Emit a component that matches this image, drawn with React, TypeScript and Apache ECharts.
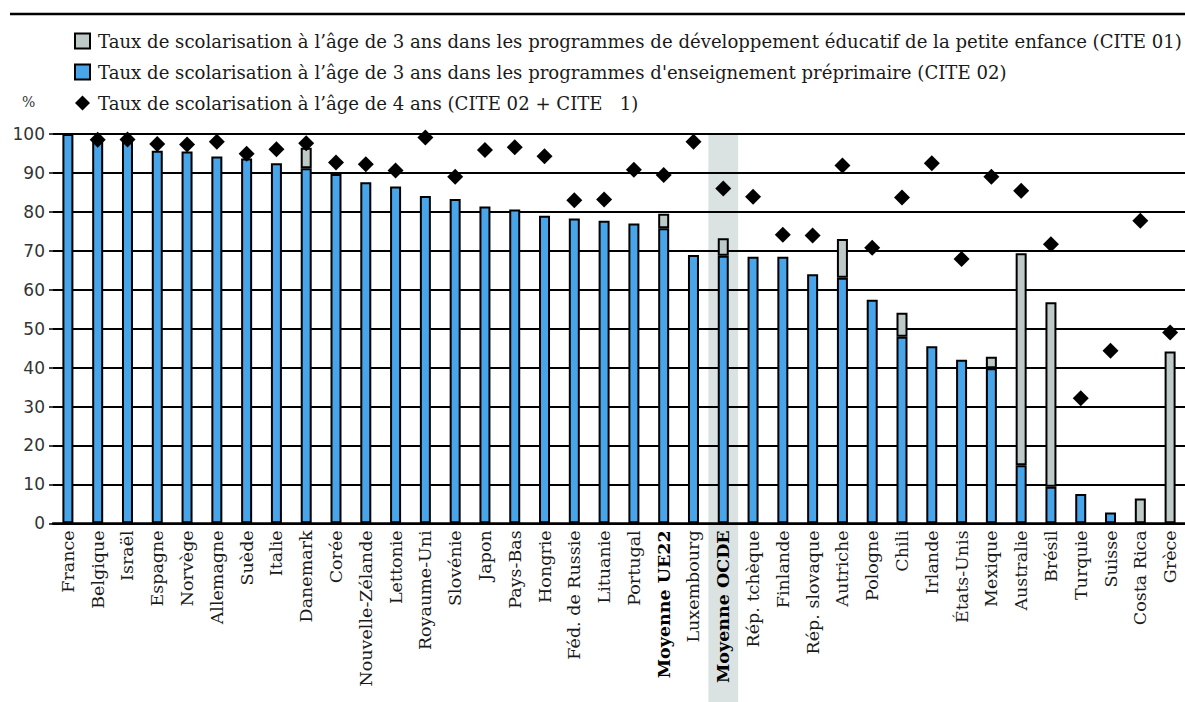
import React, { useEffect, useRef } from "react";
import * as echarts from "echarts";

const categories = [
  "France", "Belgique", "Israël", "Espagne", "Norvège", "Allemagne", "Suède", "Italie",
  "Danemark", "Corée", "Nouvelle-Zélande", "Lettonie", "Royaume-Uni", "Slovénie", "Japon",
  "Pays-Bas", "Hongrie", "Féd. de Russie", "Lituanie", "Portugal", "Moyenne UE22",
  "Luxembourg", "Moyenne OCDE", "Rép. tchèque", "Finlande", "Rép. slovaque", "Autriche",
  "Pologne", "Chili", "Irlande", "États-Unis", "Mexique", "Australie", "Brésil", "Turquie",
  "Suisse", "Costa Rica", "Grèce",
];

// CITE 02 at age 3 (blue)
const cite02Age3 = [
  100, 98.3, 98.5, 95.7, 95.5, 94.2, 93.7, 92.5,
  91.2, 89.7, 87.6, 86.5, 84.1, 83.3, 81.4,
  80.6, 79.0, 78.3, 77.7, 77.0, 75.8,
  68.9, 68.7, 68.5, 68.5, 64.0, 63.1,
  57.4, 47.9, 45.5, 42.0, 39.8, 14.9, 9.4, 7.5,
  2.8, 0, 0,
];

// CITE 01 at age 3 (grey, stacked on top)
const cite01Age3 = [
  0, 0, 0, 0, 0, 0, 0, 0,
  5.3, 0, 0, 0, 0, 0, 0,
  0, 0, 0, 0, 0, 3.7,
  0, 4.5, 0, 0, 0, 9.9,
  0, 6.2, 0, 0, 3.0, 54.5, 47.4, 0,
  0, 6.4, 44.1,
];

// Age 4 (CITE 02 + CITE 01), diamonds
const age4 = [
  null, 98.5, 98.6, 97.4, 97.3, 98.0, 94.9, 96.1,
  97.6, 92.7, 92.2, 90.6, 99.1, 89.0, 95.9,
  96.6, 94.3, 83.0, 83.2, 90.8, 89.5,
  98.0, 86.0, 83.9, 74.1, 73.9, 91.9,
  70.8, 83.7, 92.5, 67.9, 89.0, 85.4, 71.7, 32.1,
  44.3, 77.7, 49.0,
];

const yTicks = { min: 0, max: 100, interval: 10 };

const legendNames = [
  "Taux de scolarisation à l’âge de 3 ans dans les programmes de développement éducatif de la petite enfance (CITE 01)",
  "Taux de scolarisation à l’âge de 3 ans dans les programmes d'enseignement préprimaire (CITE 02)",
  "Taux de scolarisation à l’âge de 4 ans (CITE 02 + CITE   1)",
];

const highlighted = "Moyenne OCDE";
const boldCats = ["Moyenne UE22", "Moyenne OCDE"];

const BLUE = "#49a5ea";
const GREY = "#bdcac8";
const SERIF = "'DejaVu Serif', serif";

export default function App() {
  const ref = useRef<HTMLDivElement>(null);
  useEffect(() => {
    if (!ref.current) return;
    const chart = echarts.init(ref.current, undefined, { renderer: "svg" });
    const option: any = {
      animation: false,
      backgroundColor: "#ffffff",
      legend: {
        orient: "vertical",
        left: 69,
        top: 27,
        itemGap: 13,
        itemWidth: 15,
        itemHeight: 15,
        selectedMode: false,
        textStyle: {
          fontFamily: SERIF,
          fontSize: 18.1,
          lineHeight: 18,
          color: "#1a1a1a",
          padding: [0, 0, 0, 3],
        },
        data: [
          { name: legendNames[0], icon: "rect", itemStyle: { color: GREY, borderColor: "#000", borderWidth: 2 } },
          { name: legendNames[1], icon: "rect", itemStyle: { color: BLUE, borderColor: "#000", borderWidth: 2 } },
          { name: legendNames[2], icon: "diamond", itemStyle: { color: "#000", opacity: 1 } },
        ],
      },
      grid: { left: 53, top: 134, width: 1138.5, height: 389.3, containLabel: false },
      xAxis: {
        type: "category",
        data: categories,
        axisLine: { show: true, lineStyle: { color: "#000", width: 2.5 } },
        axisTick: { show: false },
        axisLabel: {
          interval: 0,
          rotate: 90,
          margin: 7,
          fontFamily: SERIF,
          fontSize: 17.5,
          color: "#1a1a1a",
          formatter: (v: string) => (boldCats.includes(v) ? `{b|${v}}` : v),
          rich: { b: { fontFamily: SERIF, fontSize: 17.5, fontWeight: "bold", color: "#000" } },
        },
      },
      yAxis: {
        type: "value",
        min: yTicks.min,
        max: yTicks.max,
        interval: yTicks.interval,
        axisLine: { show: false },
        axisTick: { show: true, length: 4, lineStyle: { color: "#000", width: 1.5 } },
        axisLabel: { fontFamily: "'DejaVu Sans', sans-serif", fontSize: 17, color: "#333", margin: 8 },
        splitLine: { show: true, lineStyle: { color: "#000", width: 1.8 } },
      },
      series: [
        {
          name: legendNames[1],
          type: "bar",
          stack: "age3",
          data: cite02Age3,
          barWidth: 11,
          itemStyle: { color: BLUE, borderColor: "#000", borderWidth: 2 },
          z: 3,
        },
        {
          name: legendNames[0],
          type: "bar",
          stack: "age3",
          data: cite01Age3.map((v) => (v === 0 ? null : v)),
          barWidth: 11,
          itemStyle: { color: GREY, borderColor: "#000", borderWidth: 2 },
          z: 3,
        },
        {
          name: legendNames[2],
          type: "scatter",
          data: age4,
          symbol: "diamond",
          symbolSize: 16,
          itemStyle: { color: "#000", opacity: 1 },
          z: 4,
        },
      ],
    };
    chart.setOption(option);

    const cx = chart.convertToPixel({ xAxisIndex: 0 }, highlighted) as number;
    const yTop = chart.convertToPixel({ yAxisIndex: 0 }, yTicks.max) as number;
    const band = (chart.convertToPixel({ xAxisIndex: 0 }, categories[1]) as number) -
      (chart.convertToPixel({ xAxisIndex: 0 }, categories[0]) as number);
    chart.setOption({
      graphic: [
        {
          type: "rect",
          z: -1,
          silent: true,
          shape: { x: cx - band / 2, y: yTop, width: band, height: 702 - yTop },
          style: { fill: "#dbe3e2" },
        },
        {
          type: "line",
          silent: true,
          shape: { x1: 10, y1: 14, x2: 1185, y2: 14 },
          style: { stroke: "#000", lineWidth: 2.5 },
        },
        {
          type: "text",
          left: 22,
          top: 95,
          style: { text: "%", fontFamily: SERIF, fontSize: 14, fill: "#333" },
        },
      ],
    });
    return () => chart.dispose();
  }, []);
  return (
    <div
      ref={ref}
      style={{ position: "fixed", left: 0, top: 0, width: 1185, height: 702 }}
    />
  );
}
